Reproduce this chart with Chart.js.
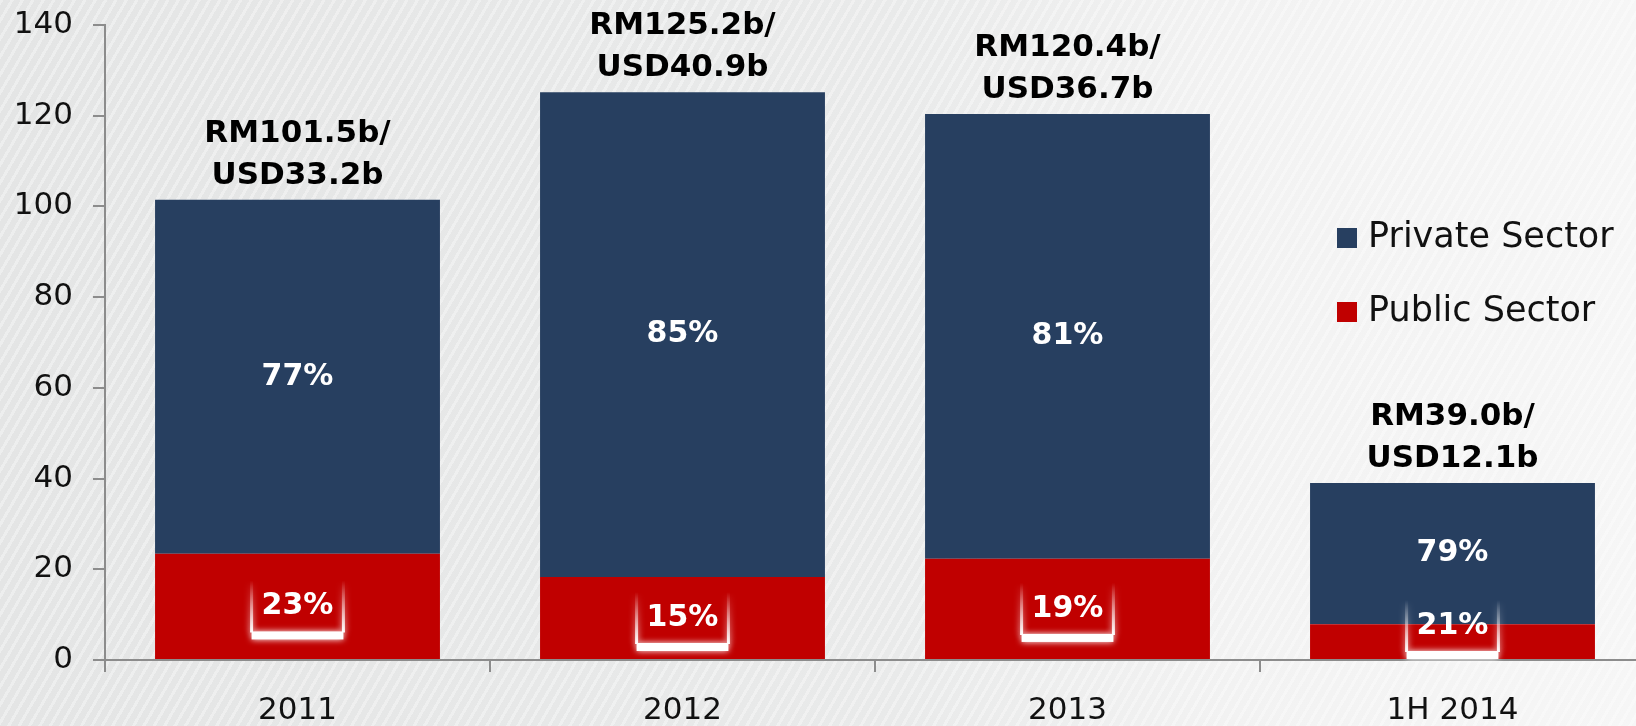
<!DOCTYPE html>
<html>
<head>
<meta charset="utf-8">
<script src="https://cdn.jsdelivr.net/npm/chart.js@4"></script>
<style>
html, body { margin: 0; padding: 0; overflow: hidden; }
body {
    width: 1636px;
    height: 726px;
    background:
        repeating-linear-gradient(120deg, rgba(255,255,255,0.35) 0px, rgba(255,255,255,0.35) 3px, rgba(0,0,0,0) 3px, rgba(0,0,0,0) 9px),
        linear-gradient(to right, #e4e5e5 0%, #e9eaea 55%, #f2f2f2 75%, #f6f6f6 100%);
}
#wrap { width: 1645px; height: 726px; position: relative; }
</style>
</head>
<body>
<div id="wrap"><canvas id="grafico"></canvas></div>
<script>
const categorias = ['2011', '2012', '2013', '1H 2014'];

const publico = [23.4, 18.3, 22.3, 7.9];
const privado = [78.1, 106.9, 98.1, 31.1];

const pctPrivado = ['77%', '85%', '81%', '79%'];
const pctPublico = ['23%', '15%', '19%', '21%'];

const rotuloRM = ['RM101.5b/', 'RM125.2b/', 'RM120.4b/', 'RM39.0b/'];
const rotuloUSD = ['USD33.2b', 'USD40.9b', 'USD36.7b', 'USD12.1b'];

const AZUL = '#273f60';
const VERMELHO = '#c00000';
const CINZA = '#8c8c8c';
const FONTE = "'DejaVu Sans', sans-serif";

const data = {
    labels: categorias,
    datasets: [{
        label: 'Public Sector',
        backgroundColor: VERMELHO,
        data: publico,
    },
    {
        label: 'Private Sector',
        backgroundColor: AZUL,
        data: privado,
    }]
};

// rotulos de valor e percentuais
const rotulos = {
    id: 'rotulos',
    afterDatasetsDraw(chart) {
        const ctx = chart.ctx;
        const mPub = chart.getDatasetMeta(0).data;
        const mPriv = chart.getDatasetMeta(1).data;
        ctx.save();
        ctx.textAlign = 'center';
        ctx.textBaseline = 'middle';
        for (let i = 0; i < categorias.length; i++) {
            const pub = mPub[i];
            const priv = mPriv[i];

            // total acima da barra
            ctx.fillStyle = '#000';
            ctx.font = 'bold 31px ' + FONTE;
            ctx.fillText(rotuloRM[i], priv.x, priv.y - 66);
            ctx.fillText(rotuloUSD[i], priv.x, priv.y - 24);

            // percentual privado
            ctx.fillStyle = '#fff';
            ctx.font = 'bold 30px ' + FONTE;
            ctx.fillText(pctPrivado[i], priv.x, (priv.y + priv.base) / 2);

            // percentual publico com moldura brilhante
            const yc = Math.min((pub.y + pub.base) / 2, pub.base - 33);
            const hw = ctx.measureText(pctPublico[i]).width / 2 + 10;
            const x0 = priv.x - hw, x1 = priv.x + hw;
            ctx.save();
            ctx.shadowColor = '#ffffff';
            ctx.shadowBlur = 6;
            const grad = ctx.createLinearGradient(0, yc - 26, 0, yc + 26);
            grad.addColorStop(0, 'rgba(255,255,255,0)');
            grad.addColorStop(1, 'rgba(255,255,255,1)');
            ctx.strokeStyle = grad;
            ctx.lineWidth = 3;
            ctx.beginPath();
            ctx.moveTo(x0, yc - 26);
            ctx.lineTo(x0, yc + 26);
            ctx.moveTo(x1, yc - 26);
            ctx.lineTo(x1, yc + 26);
            ctx.stroke();
            ctx.fillStyle = '#ffffff';
            ctx.fillRect(x0, yc + 25, x1 - x0, 8);
            ctx.restore();
            ctx.fillStyle = '#fff';
            ctx.fillText(pctPublico[i], priv.x, yc);
        }
        ctx.restore();
    }
};

// legenda dentro da area do grafico
const legenda = {
    id: 'legenda',
    afterDraw(chart) {
        const ctx = chart.ctx;
        const area = chart.chartArea;
        const itens = [chart.data.datasets[1], chart.data.datasets[0]];
        ctx.save();
        ctx.textBaseline = 'middle';
        ctx.textAlign = 'left';
        ctx.font = '35px ' + FONTE;
        itens.forEach((ds, k) => {
            const x = area.right - 308;
            const y = area.top + 213 + k * 74;
            ctx.fillStyle = ds.backgroundColor;
            ctx.fillRect(x, y - 10, 20, 20);
            ctx.fillStyle = '#111';
            ctx.fillText(ds.label, x + 31, y);
        });
        ctx.restore();
    }
};

const config = {
    type: 'bar',
    data: data,
    plugins: [rotulos, legenda],
    options: {
        responsive: false,
        animation: false,
        layout: { padding: { top: 25, right: 0, left: 0, bottom: 0 } },
        plugins: {
            legend: { display: false },
            tooltip: { enabled: false }
        },
        datasets: {
            bar: { barPercentage: 0.74, categoryPercentage: 1.0 }
        },
        scales: {
            x: {
                stacked: true,
                afterFit(scale) {
                    scale.height = 66;
                    scale.paddingLeft = 0;
                    scale.paddingRight = 0;
                },
                grid: { offset: true, drawOnChartArea: false, tickLength: 12, color: CINZA, lineWidth: 2 },
                border: { color: CINZA, width: 2 },
                ticks: { color: '#111', font: { family: FONTE, size: 31 }, padding: 20 }
            },
            y: {
                stacked: true,
                min: 0,
                max: 140,
                afterFit(scale) {
                    scale.width = 105;
                    scale.paddingTop = 0;
                    scale.paddingBottom = 0;
                },
                grid: { drawOnChartArea: false, tickLength: 12, color: CINZA, lineWidth: 2 },
                border: { color: CINZA, width: 2 },
                ticks: { stepSize: 20, color: '#111', font: { family: FONTE, size: 31 }, padding: 20 }
            }
        }
    }
};

const cv = document.getElementById('grafico');
cv.width = 1645;
cv.height = 726;

const resultado = new Chart(cv, config);
</script>
</body>
</html>
